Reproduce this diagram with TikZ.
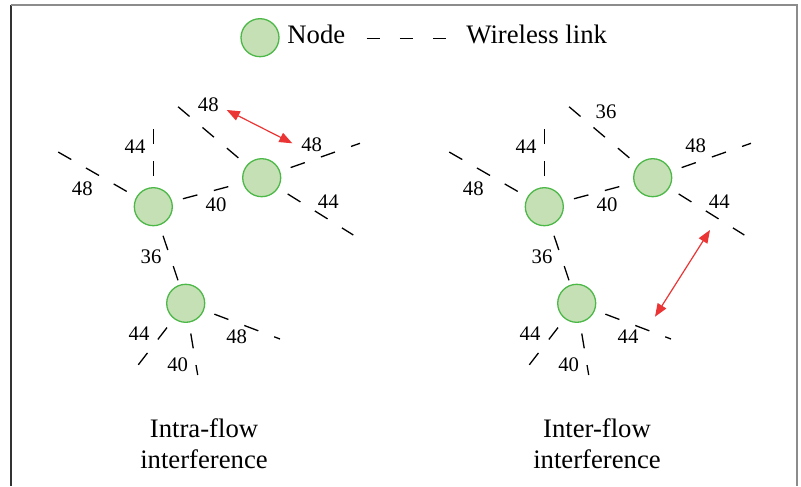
\documentclass[tikz,border=0pt]{standalone}
\usepackage{fontspec}
\setmainfont{Liberation Serif}
\usetikzlibrary{arrows.meta}
\definecolor{nodefill}{HTML}{C5E0B4}
\definecolor{nodeline}{HTML}{4CB848}
\definecolor{arrowred}{HTML}{EB3434}
\tikzset{
	wnode/.style={circle, draw=nodeline, fill=nodefill, line width=0.65pt, minimum size=19pt, inner sep=0pt},
	wlink/.style={line width=0.65pt, dash pattern=on 7.5pt off 8.5pt, dash phase=10.5pt},
	hoplbl/.style={inner sep=0pt, font=\fontsize{10.35}{12}\selectfont},
	bigtxt/.style={inner sep=0pt, font=\fontsize{13.35}{15.5}\selectfont},
	redarrow/.style={arrowred, line width=0.6pt, {Triangle[length=6.5pt,width=5pt]}-{Triangle[length=6.5pt,width=5pt]}}
}

\begin{document}
\begin{tikzpicture}[x=0.5pt, y=-0.5pt]
		%%%%% START %%%%%
		\useasboundingbox (0,0) rectangle (801,486);
		\draw[line width=1pt, black!80] (10.5,5.5) -- (10.5,486);
		\draw[line width=1pt, black!45] (10.5,5.5) -- (797,5.5) -- (797,486);
		
		% legend
		\node[wnode] (lg-node) at (260,37.7) {};
		\node[bigtxt, anchor=base west] (lg-nodetxt) at (287,43.3) {Node};
		\coordinate (lg-a) at (366.7,38.5);
		\coordinate (lg-b) at (446,38.5);
		\draw[line width=0.65pt, dash pattern=on 6.4pt off 10.2pt] (lg-a) -- (lg-b);
		\node[bigtxt, anchor=base west] (lg-linktxt) at (466,43.3) {Wireless link};
		
		% intra-flow
		\begin{scope}
			\node[wnode] (a1) at (153.3,206.7) {};
			\node[wnode] (b1) at (261.7,177.7) {};
			\node[wnode] (c1) at (185.7,303.3) {};
			\coordinate (a1-n) at (153.3,115);
			\coordinate (a1-nw) at (51.7,148.3);
			\coordinate (b1-nw) at (173.3,102.7);
			\coordinate (b1-ne) at (360,143.3);
			\coordinate (b1-se) at (353.3,235);
			\coordinate (c1-sw) at (134.3,370);
			\coordinate (c1-s) at (197.7,375);
			\coordinate (c1-e) at (280,339);
			
			\draw[wlink] (a1) -- (a1-n);
			\draw[wlink] (a1) -- (a1-nw);
			\draw[wlink] (a1) -- (b1);
			\draw[wlink] (a1) -- (c1);
			\draw[wlink] (b1) -- (b1-nw);
			\draw[wlink] (b1) -- (b1-ne);
			\draw[wlink] (b1) -- (b1-se);
			\draw[wlink] (c1) -- (c1-sw);
			\draw[wlink] (c1) -- (c1-s);
			\draw[wlink] (c1) -- (c1-e);
			
			\node[hoplbl] (l1-an) at (135,146.7) {44};
			\node[hoplbl] (l1-anw) at (82.3,189) {48};
			\node[hoplbl] (l1-ab) at (216,205) {40};
			\node[hoplbl] (l1-ac) at (151,256.7) {36};
			\node[hoplbl] (l1-bnw) at (208.3,105) {48};
			\node[hoplbl] (l1-bne) at (311.7,145) {48};
			\node[hoplbl] (l1-bse) at (328.3,201.7) {44};
			\node[hoplbl] (l1-csw) at (139,333.3) {44};
			\node[hoplbl] (l1-cs) at (177.7,365) {40};
			\node[hoplbl] (l1-ce) at (236.7,336.7) {48};
			
			\coordinate (r1-a) at (226.7,110);
			\coordinate (r1-b) at (292.3,143.3);
			\draw[redarrow] (r1-a) -- (r1-b);
			
			\node[bigtxt, align=center] (cap1) at (204,443.5) {Intra-flow\\interference};
		\end{scope}
		
		% inter-flow
		\begin{scope}[shift={(391,0)}]
			\node[wnode] (a2) at (153.3,206.7) {};
			\node[wnode] (b2) at (261.7,177.7) {};
			\node[wnode] (c2) at (185.7,303.3) {};
			\coordinate (a2-n) at (153.3,115);
			\coordinate (a2-nw) at (51.7,148.3);
			\coordinate (b2-nw) at (173.3,102.7);
			\coordinate (b2-ne) at (360,143.3);
			\coordinate (b2-se) at (353.3,235);
			\coordinate (c2-sw) at (134.3,370);
			\coordinate (c2-s) at (197.7,375);
			\coordinate (c2-e) at (280,339);
			
			\draw[wlink] (a2) -- (a2-n);
			\draw[wlink] (a2) -- (a2-nw);
			\draw[wlink] (a2) -- (b2);
			\draw[wlink] (a2) -- (c2);
			\draw[wlink] (b2) -- (b2-nw);
			\draw[wlink] (b2) -- (b2-ne);
			\draw[wlink] (b2) -- (b2-se);
			\draw[wlink] (c2) -- (c2-sw);
			\draw[wlink] (c2) -- (c2-s);
			\draw[wlink] (c2) -- (c2-e);
			
			\node[hoplbl] (l2-an) at (135,146.7) {44};
			\node[hoplbl] (l2-anw) at (82.3,189) {48};
			\node[hoplbl] (l2-ab) at (216,205) {40};
			\node[hoplbl] (l2-ac) at (151,256.7) {36};
			\node[hoplbl] (l2-bnw) at (215,111.7) {36};
			\node[hoplbl] (l2-bne) at (304.7,145.7) {48};
			\node[hoplbl] (l2-bse) at (328.3,201.7) {44};
			\node[hoplbl] (l2-csw) at (139,333.3) {44};
			\node[hoplbl] (l2-cs) at (177.7,365) {40};
			\node[hoplbl] (l2-ce) at (237,336.7) {44};
			
			\coordinate (r2-a) at (319,230);
			\coordinate (r2-b) at (264,316.7);
			\draw[redarrow] (r2-a) -- (r2-b);
			
			\node[bigtxt, align=center] (cap2) at (206,443.5) {Inter-flow\\interference};
		\end{scope}
		%%%%% END %%%%%
\end{tikzpicture}
\end{document}
